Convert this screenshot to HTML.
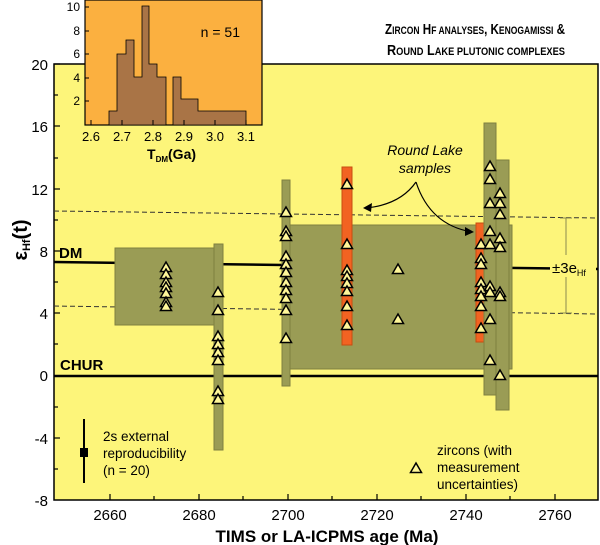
<!DOCTYPE html>
<html><head><style>
body{margin:0;background:#fff;}
svg{display:block;font-family:"Liberation Sans",sans-serif;}
</style></head><body>
<svg width="600" height="545" viewBox="0 0 600 545">
<defs>
<symbol id="t" viewBox="-6 -6 12 12" overflow="visible"><polygon points="0,-5 5.5,4.5 -5.5,4.5" fill="#fff799" stroke="#000" stroke-width="1.5"/></symbol>
</defs>
<rect x="54" y="64" width="544" height="436" fill="#fdf57a" stroke="#000" stroke-width="1.5"/>
<line x1="54" y1="211" x2="598" y2="218" stroke="#333" stroke-dasharray="5,3" stroke-width="1"/>
<line x1="54" y1="306" x2="598" y2="314" stroke="#333" stroke-dasharray="5,3" stroke-width="1"/>
<line x1="54" y1="262" x2="598" y2="269" stroke="#000" stroke-width="2.5"/>
<line x1="54" y1="376" x2="598" y2="376" stroke="#000" stroke-width="2.5"/>
<rect x="115" y="248" width="99" height="77" fill="#9a9c55" stroke="#7f8040" stroke-width="1"/>
<rect x="290" y="225" width="222" height="144" fill="#9a9c55" stroke="#7f8040" stroke-width="1"/>
<rect x="214" y="244" width="9" height="206" fill="#9a9c55" stroke="#7f8040" stroke-width="1"/>
<rect x="282" y="180" width="8" height="206" fill="#9a9c55" stroke="#7f8040" stroke-width="1"/>
<rect x="342" y="167" width="10" height="178" fill="#f26322" stroke="#c84d10" stroke-width="1"/>
<rect x="476" y="223" width="9" height="119" fill="#f26322" stroke="#c84d10" stroke-width="1"/>
<rect x="484" y="123" width="12" height="272" fill="#9a9c55" stroke="#7f8040" stroke-width="1"/>
<rect x="496" y="160" width="13" height="250" fill="#9a9c55" stroke="#7f8040" stroke-width="1"/>
<line x1="566" y1="218" x2="566" y2="313" stroke="#8a8a50" stroke-width="1"/>
<line x1="560" y1="218" x2="572" y2="218" stroke="#8a8a50"/>
<line x1="560" y1="313" x2="572" y2="313" stroke="#8a8a50"/>
<rect x="550" y="255" width="46" height="22" fill="#fdf57a"/>
<text x="552" y="273" font-size="15">±3e<tspan font-size="9" dy="3">Hf</tspan></text>
<g>
<use href="#t" x="160" y="261" width="12" height="12"/><use href="#t" x="160" y="268" width="12" height="12"/><use href="#t" x="160" y="276" width="12" height="12"/><use href="#t" x="160" y="281" width="12" height="12"/><use href="#t" x="160" y="287" width="12" height="12"/><use href="#t" x="160" y="296" width="12" height="12"/><use href="#t" x="160" y="300" width="12" height="12"/>
<use href="#t" x="212" y="286" width="12" height="12"/><use href="#t" x="212" y="304" width="12" height="12"/><use href="#t" x="212" y="330" width="12" height="12"/><use href="#t" x="212" y="338" width="12" height="12"/><use href="#t" x="212" y="346" width="12" height="12"/><use href="#t" x="212" y="354" width="12" height="12"/><use href="#t" x="212" y="385" width="12" height="12"/><use href="#t" x="212" y="393" width="12" height="12"/>
<use href="#t" x="280" y="206" width="12" height="12"/><use href="#t" x="280" y="225" width="12" height="12"/><use href="#t" x="280" y="230" width="12" height="12"/><use href="#t" x="280" y="250" width="12" height="12"/><use href="#t" x="280" y="258" width="12" height="12"/><use href="#t" x="280" y="266" width="12" height="12"/><use href="#t" x="280" y="276" width="12" height="12"/><use href="#t" x="280" y="284" width="12" height="12"/><use href="#t" x="280" y="292" width="12" height="12"/><use href="#t" x="280" y="304" width="12" height="12"/><use href="#t" x="280" y="332" width="12" height="12"/>
<use href="#t" x="341" y="178" width="12" height="12"/><use href="#t" x="341" y="238" width="12" height="12"/><use href="#t" x="341" y="264" width="12" height="12"/><use href="#t" x="341" y="270" width="12" height="12"/><use href="#t" x="341" y="277" width="12" height="12"/><use href="#t" x="341" y="285" width="12" height="12"/><use href="#t" x="341" y="300" width="12" height="12"/><use href="#t" x="341" y="319" width="12" height="12"/>
<use href="#t" x="392" y="263" width="12" height="12"/><use href="#t" x="392" y="313" width="12" height="12"/>
<use href="#t" x="475" y="238" width="12" height="12"/><use href="#t" x="475" y="252" width="12" height="12"/><use href="#t" x="475" y="258" width="12" height="12"/><use href="#t" x="475" y="276" width="12" height="12"/><use href="#t" x="475" y="283" width="12" height="12"/><use href="#t" x="475" y="290" width="12" height="12"/><use href="#t" x="475" y="300" width="12" height="12"/><use href="#t" x="475" y="322" width="12" height="12"/>
<use href="#t" x="484" y="160" width="12" height="12"/><use href="#t" x="484" y="173" width="12" height="12"/><use href="#t" x="484" y="197" width="12" height="12"/><use href="#t" x="484" y="225" width="12" height="12"/><use href="#t" x="484" y="238" width="12" height="12"/><use href="#t" x="484" y="280" width="12" height="12"/><use href="#t" x="484" y="286" width="12" height="12"/><use href="#t" x="484" y="313" width="12" height="12"/><use href="#t" x="484" y="354" width="12" height="12"/>
<use href="#t" x="494" y="187" width="12" height="12"/><use href="#t" x="494" y="197" width="12" height="12"/><use href="#t" x="494" y="208" width="12" height="12"/><use href="#t" x="494" y="232" width="12" height="12"/><use href="#t" x="494" y="241" width="12" height="12"/><use href="#t" x="494" y="286" width="12" height="12"/><use href="#t" x="494" y="290" width="12" height="12"/><use href="#t" x="494" y="369" width="12" height="12"/>
</g>
<path d="M416 182 Q400 205 365 208" fill="none" stroke="#000" stroke-width="1.2"/>
<polygon points="363,208 372,203 371,212" fill="#000"/>
<path d="M416 182 Q430 225 472 232" fill="none" stroke="#000" stroke-width="1.2"/>
<polygon points="474,232 465,227 465,236" fill="#000"/>
<text x="425" y="155" font-size="14" font-style="italic" text-anchor="middle">Round Lake</text>
<text x="425" y="173" font-size="14" font-style="italic" text-anchor="middle">samples</text>
<text x="59" y="258" font-size="15" font-weight="bold">DM</text>
<text x="60" y="370" font-size="15" font-weight="bold">CHUR</text>
<line x1="84" y1="419" x2="84" y2="483" stroke="#000" stroke-width="2"/>
<rect x="80" y="448" width="8" height="9" fill="#000"/>
<text x="103" y="441" font-size="13.5">2s external</text>
<text x="103" y="458" font-size="13.5">reproducibility</text>
<text x="103" y="475" font-size="13.5">(n = 20)</text>
<use href="#t" x="410" y="462" width="12" height="12"/>
<text x="437" y="455" font-size="13.5">zircons (with</text>
<text x="437" y="472" font-size="13.5">measurement</text>
<text x="437" y="489" font-size="13.5">uncertainties)</text>
<g stroke="#000" stroke-width="1.2">
<line x1="54" y1="64" x2="60" y2="64"/><line x1="54" y1="95" x2="58" y2="95"/><line x1="54" y1="126" x2="60" y2="126"/><line x1="54" y1="158" x2="58" y2="158"/><line x1="54" y1="189" x2="60" y2="189"/><line x1="54" y1="220" x2="58" y2="220"/><line x1="54" y1="251" x2="60" y2="251"/><line x1="54" y1="282" x2="58" y2="282"/><line x1="54" y1="313" x2="60" y2="313"/><line x1="54" y1="344" x2="58" y2="344"/><line x1="54" y1="407" x2="58" y2="407"/><line x1="54" y1="438" x2="60" y2="438"/><line x1="54" y1="469" x2="58" y2="469"/>
<line x1="110" y1="500" x2="110" y2="494"/><line x1="154" y1="500" x2="154" y2="496"/><line x1="199" y1="500" x2="199" y2="494"/><line x1="243" y1="500" x2="243" y2="496"/><line x1="288" y1="500" x2="288" y2="494"/><line x1="332" y1="500" x2="332" y2="496"/><line x1="377" y1="500" x2="377" y2="494"/><line x1="421" y1="500" x2="421" y2="496"/><line x1="466" y1="500" x2="466" y2="494"/><line x1="510" y1="500" x2="510" y2="496"/><line x1="555" y1="500" x2="555" y2="494"/>
</g>
<g font-size="15" text-anchor="end">
<text x="48" y="70">20</text><text x="48" y="132">16</text><text x="48" y="195">12</text><text x="48" y="257">8</text><text x="48" y="319">4</text><text x="48" y="381">0</text><text x="48" y="444">-4</text><text x="48" y="506">-8</text>
</g>
<g font-size="15" text-anchor="middle">
<text x="110" y="520">2660</text><text x="199" y="520">2680</text><text x="288" y="520">2700</text><text x="377" y="520">2720</text><text x="466" y="520">2740</text><text x="555" y="520">2760</text>
</g>
<text x="327" y="542" font-size="17" font-weight="bold" text-anchor="middle">TIMS or LA-ICPMS age (Ma)</text>
<text transform="translate(27,240) rotate(-90)" font-size="20" font-weight="bold" text-anchor="middle">ε<tspan font-size="11" dy="3">Hf</tspan><tspan dy="-3">(t)</tspan></text>
<text x="385" y="34" font-size="15" font-weight="bold" textLength="180" lengthAdjust="spacingAndGlyphs">Z<tspan font-size="11">IRCON</tspan> H<tspan font-size="11">F ANALYSES</tspan>, K<tspan font-size="11">ENOGAMISSI</tspan> &amp;</text>
<text x="387" y="55" font-size="15" font-weight="bold" textLength="178" lengthAdjust="spacingAndGlyphs">R<tspan font-size="11">OUND</tspan> L<tspan font-size="11">AKE PLUTONIC COMPLEXES</tspan></text>
<rect x="85" y="0" width="177" height="125" fill="#fbb040" stroke="#000" stroke-width="1.2"/>
<path d="M109 125 V111 H117 V54 H126 V40 H134 V77 H142 V6 H149 V64 H157 V77 H166 V125 Z M173 125 V77 H181 V99 H198 V111 H246 V125 Z" fill="#a97446" stroke="#000" stroke-width="0.8"/>
<text x="240" y="37" font-size="14" text-anchor="end">n = 51</text>
<g font-size="12" text-anchor="end">
<text x="80" y="11">10</text><text x="80" y="35">8</text><text x="80" y="58">6</text><text x="80" y="82">4</text><text x="80" y="105">2</text>
</g>
<g stroke="#000" stroke-width="1">
<line x1="85" y1="7" x2="89" y2="7"/><line x1="85" y1="31" x2="89" y2="31"/><line x1="85" y1="54" x2="89" y2="54"/><line x1="85" y1="78" x2="89" y2="78"/><line x1="85" y1="101" x2="89" y2="101"/>
<line x1="91" y1="125" x2="91" y2="120"/><line x1="122" y1="125" x2="122" y2="120"/><line x1="153" y1="125" x2="153" y2="120"/><line x1="184" y1="125" x2="184" y2="120"/><line x1="215" y1="125" x2="215" y2="120"/><line x1="246" y1="125" x2="246" y2="120"/>
</g>
<g font-size="13" text-anchor="middle">
<text x="91" y="141">2.6</text><text x="122" y="141">2.7</text><text x="153" y="141">2.8</text><text x="184" y="141">2.9</text><text x="215" y="141">3.0</text><text x="246" y="141">3.1</text>
</g>
<text x="147" y="159" font-size="14" font-weight="bold">T<tspan font-size="8" dy="3">DM</tspan><tspan dy="-3">(Ga)</tspan></text>
</svg>
</body></html>
